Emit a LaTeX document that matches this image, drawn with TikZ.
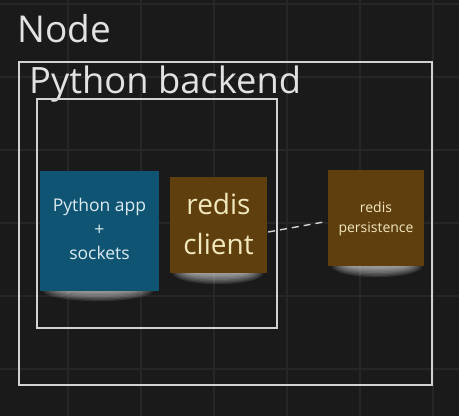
\documentclass[tikz,border=0pt]{standalone}
\usepackage{fontspec}
\setmainfont{Open Sans}
\usetikzlibrary{calc}
\definecolor{bg}{HTML}{1A1A1A}
\definecolor{gridc}{HTML}{262626}
\definecolor{framec}{HTML}{D2D2D2}
\definecolor{titlec}{HTML}{E2E2E2}
\definecolor{bluenote}{HTML}{0F5573}
\definecolor{brownnote}{HTML}{5F3F0E}
\definecolor{bluetext}{HTML}{DDEAF0}
\definecolor{yeltext}{HTML}{F2E8BE}
\tikzset{
  frame/.style={draw=framec, line width=1.4pt},
  note/.style={rectangle, inner sep=0pt, draw=none},
  notetext/.style={align=center, inner sep=0pt},
  link/.style={draw=framec, line width=1.4pt, dash pattern=on 7pt off 5pt},
  glow/.style={fill=white, opacity=0.1},
}
\newcommand{\noteshadow}[3]{% x-center, bottom y, half width
  \begin{scope}
    \clip (#1-#3-10,#2) rectangle (#1+#3+10,#2+16);
    \foreach \k in {1,...,8}
      \fill[glow] (#1,#2) ellipse ({#3*(0.55+0.06*\k)} and {1.4*\k});
  \end{scope}}
\begin{document}
\begin{tikzpicture}[x=1pt,y=-1pt]
  \fill[bg] (0,0) rectangle (459,416);
  \useasboundingbox (0,0) rectangle (459,416);
  % grid
  \foreach \gx in {68,141,214,287,360,433} \draw[gridc, line width=1.5pt] (\gx,0) -- (\gx,416);
  \foreach \gy in {4,77,150,223,296,369} \draw[gridc, line width=1.5pt] (0,\gy) -- (459,\gy);
  % titles and frames
  \node[anchor=base west, inner sep=0pt, text=titlec, font=\fontsize{37}{40}\selectfont] (nodetitle) at (17,42) {Node};
  \draw[frame] (19,62) rectangle (432,385);
  \node[anchor=base west, inner sep=0pt, text=titlec, font=\fontsize{36.3}{40}\selectfont] (pytitle) at (29,93) {Python backend};
  \draw[frame] (37,99) rectangle (277,328);
  % shadows
  \noteshadow{98}{290}{54}
  \noteshadow{218}{273}{44}
  \noteshadow{377}{266}{44}
  % notes
  \node[note, fill=bluenote, minimum width=119pt, minimum height=120pt] (app) at (99.5,231) {};
  \node[notetext, text=bluetext, font=\fontsize{17.5}{24}\selectfont] (apptxt) at (99.5,229.4) {Python app\\+\\sockets};
  \node[note, fill=brownnote, minimum width=97pt, minimum height=96pt] (rc) at (218.5,225) {};
  \node[notetext, text=yeltext, font=\fontsize{28}{40}\selectfont] (rctxt) at (218.5,224.4) {redis\\client};
  \node[note, fill=brownnote, minimum width=96pt, minimum height=96pt] (rp) at (376,218) {};
  \node[notetext, text=yeltext, font=\fontsize{14}{20}\selectfont] (rptxt) at (376,218.4) {redis\\persistence};
  % link
  \draw[link] ($(rc.east)+(1,7)$) -- ($(rp.west)+(-4,4)$);
\end{tikzpicture}
\end{document}
